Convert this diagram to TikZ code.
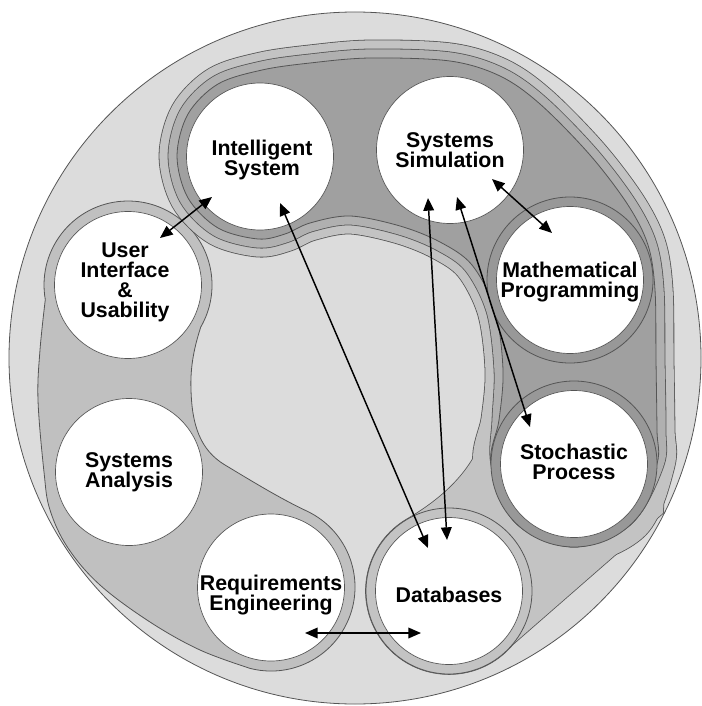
\documentclass[tikz,border=0pt]{standalone}
\usepackage{fontspec}
\setmainfont{Liberation Sans}
\usetikzlibrary{arrows.meta}
\definecolor{bgc}{HTML}{DCDCDC}
\definecolor{medc}{HTML}{C0C0C0}
\definecolor{oonec}{HTML}{C3C3C3}
\definecolor{otwoc}{HTML}{B0B0B0}
\definecolor{othreec}{HTML}{A0A0A0}
\definecolor{ringc}{HTML}{989898}
\definecolor{linec}{HTML}{555555}
\newcommand\Pcurve{plot[smooth cycle, tension=0.55] coordinates {(177,156) (188,114) (218,84) (262,70) (310,63) (370,58) (450,61) (500,76) (540,104) (590,155) (628,205) (648,245) (655,290) (656,360) (657,430) (657,464) (632.7,522.7) (574,547) (515.3,522.7) (491,464) (499,420) (503,370) (495,310) (472,265) (440,242) (400,226) (350,216) (310,223) (285,234) (258,239) (218,228) (188,198)}}
\newcommand\Ptwocurve{plot[smooth cycle, tension=0.55] coordinates {(177,156) (188,114) (218,84) (262,70) (310,63) (370,58) (450,61) (500,76) (540,104) (590,155) (628,205) (648,245) (655,290) (656,360) (657,430) (655,464) (626.3,516.3) (574,538) (521.7,516.3) (500,464) (501,420) (503,370) (495,310) (472,265) (440,242) (400,226) (350,216) (310,223) (285,234) (258,239) (218,228) (188,198)}}
\newcommand\DBext{(500,380) -- (485,430) .. controls (475,470) and (442,499) .. (407.5,519.1) arc[start angle=240, end angle=40, radius=83] -- (663,513) -- (668,400) -- (668,380) -- cycle}
\begin{document}
\begin{tikzpicture}[x=0.75pt,y=-0.75pt,
  topic/.style={circle, fill=white, draw=linec, line width=0.5pt, minimum size=110.25pt, inner sep=0pt},
  lab/.style={align=center, font=\fontsize{16}{15}\selectfont\bfseries, inner sep=0pt, text=black},
  outl/.style={draw=linec, line width=0.6pt},
  arr/.style={{Triangle[length=9.5pt,width=8pt]}-{Triangle[length=9.5pt,width=8pt]}, line width=1.1pt, black},
]
\useasboundingbox (0,0) rectangle (701,706);
% outer disc
\filldraw[fill=bgc, outl] (355,358) circle[radius=346];
% left group blob
\filldraw[fill=medc, outl] (45.3,299.6) arc[start angle=170, end angle=390, radius=84]
  .. controls (195,345) and (190,365) .. (191,390)
  .. controls (192,425) and (200,450) .. (225,465)
  .. controls (250,480) and (279.5,498.2) .. (306.5,510.9)
  arc[start angle=295, end angle=465, radius=84]
  -- plot[smooth, tension=0.6] coordinates {(249.3,668.1) (200,650) (150,622) (100,585) (68,548) (50,510) (44,472) (38,400) (40,350) (45.3,299.6)} -- cycle;
% outer band of upper group, united with the databases region
\draw[linec, line width=27.6pt, line join=round] \Pcurve;
\filldraw[linec, line width=1.2pt] \DBext;
\draw[oonec, line width=26.4pt, line join=round] \Pcurve;
\fill[oonec] \DBext;
% middle band
\draw[linec, line width=14.1pt, line join=round] \Ptwocurve;
\draw[otwoc, line width=12.9pt, line join=round] \Ptwocurve;
% inner dark region
\filldraw[fill=othreec, outl] \Pcurve;
% rings
\filldraw[fill=ringc, outl] (570,280) circle[radius=83];
\filldraw[fill=ringc, outl] (574,464) circle[radius=83];
\filldraw[fill=oonec, outl] (449,591) circle[radius=83];
% topic circles
\node[topic, label={[lab, xshift=1.5pt, yshift=-2.6pt]center:Intelligent\\System}] (IS) at (260,156.5) {};
\node[topic, label={[lab]center:Systems\\Simulation}] (SS) at (450,150) {};
\node[topic, label={[lab, yshift=-1.5pt]center:Mathematical\\Programming}] (MP) at (570,280) {};
\node[topic, label={[lab, yshift=1.9pt]center:Stochastic\\Process}] (SP) at (574,464) {};
\node[topic, label={[lab, yshift=-2.6pt]center:Databases}] (DB) at (449,591) {};
\node[topic, label={[lab, yshift=-5.6pt]center:Requirements\\Engineering}] (RE) at (271,587.5) {};
\node[topic, label={[lab]center:Systems\\Analysis}] (SA) at (129,472) {};
\node[topic, label={[lab, xshift=-2.25pt, yshift=1.9pt]center:User\\Interface\\\&\\Usability}] (UI) at (128,285) {};
% arrow ends
\coordinate (a1) at (212,197); \coordinate (a2) at (160,238);
\coordinate (b1) at (280,203); \coordinate (b2) at (428,548);
\coordinate (c1) at (428,198); \coordinate (c2) at (447,540);
\coordinate (d1) at (457,197); \coordinate (d2) at (530,427);
\coordinate (e1) at (492,179); \coordinate (e2) at (552,233);
\coordinate (f1) at (305,633); \coordinate (f2) at (421,633);
\draw[arr] (a1) -- (a2);
\draw[arr] (b1) -- (b2);
\draw[arr] (c1) -- (c2);
\draw[arr] (d1) -- (d2);
\draw[arr] (e1) -- (e2);
\draw[arr] (f1) -- (f2);
\end{tikzpicture}
\end{document}
